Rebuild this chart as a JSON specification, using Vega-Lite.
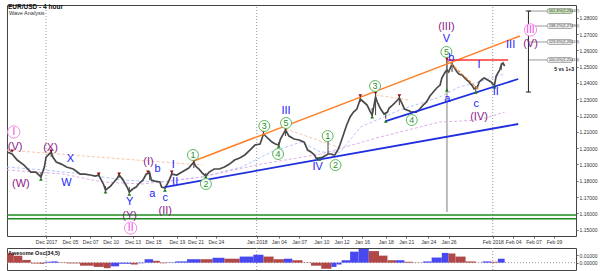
{
"$schema": "https://vega.github.io/schema/vega-lite/v6.json",
"padding": {"left": 3, "top": 3, "right": 0, "bottom": 0},
"background": "white",
"spacing": 2,
"resolve": {"scale": {"color": "independent", "shape": "independent"}},
"config": {
  "view": {"stroke": "#444", "strokeWidth": 1},
  "font": "Liberation Sans"
},
"datasets": {
  "price": [
    {"b":0,"p":1.1976},{"b":3,"p":1.1964},{"b":6,"p":1.1927},{"b":10,"p":1.1896},{"b":14,"p":1.1853},{"b":17,"p":1.1853},{"b":20,"p":1.1823},{"b":22,"p":1.1884},{"b":23,"p":1.1945},{"b":26,"p":1.1976},{"b":27,"p":1.1945},{"b":29,"p":1.1915},{"b":32,"p":1.1902},{"b":35,"p":1.1884},{"b":39,"p":1.1872},{"b":43,"p":1.1841},{"b":46,"p":1.1841},{"b":49,"p":1.1835},{"b":52,"p":1.1829},{"b":54,"p":1.1835},{"b":57,"p":1.1774},{"b":58,"p":1.1743},{"b":61,"p":1.1767},{"b":62,"p":1.178},{"b":65,"p":1.1817},{"b":66,"p":1.1835},{"b":68,"p":1.181},{"b":69,"p":1.1792},{"b":71,"p":1.1755},{"b":72,"p":1.1731},{"b":74,"p":1.1749},{"b":76,"p":1.1761},{"b":78,"p":1.1786},{"b":80,"p":1.1804},{"b":82,"p":1.1841},{"b":84,"p":1.1847},{"b":85,"p":1.1804},{"b":87,"p":1.1798},{"b":90,"p":1.1792},{"b":91,"p":1.1761},{"b":93,"p":1.1755},{"b":95,"p":1.1792},{"b":97,"p":1.1841},{"b":100,"p":1.1835},{"b":103,"p":1.1853},{"b":105,"p":1.1866},{"b":107,"p":1.1878},{"b":110,"p":1.1915},{"b":111,"p":1.189},{"b":113,"p":1.1872},{"b":115,"p":1.1847},{"b":117,"p":1.1829},{"b":119,"p":1.1853},{"b":122,"p":1.1872},{"b":125,"p":1.1872},{"b":128,"p":1.1884},{"b":131,"p":1.1902},{"b":134,"p":1.1927},{"b":137,"p":1.1939},{"b":140,"p":1.1958},{"b":143,"p":1.1988},{"b":146,"p":1.2019},{"b":149,"p":1.2025},{"b":151,"p":1.2087},{"b":154,"p":1.2056},{"b":156,"p":1.2037},{"b":158,"p":1.2025},{"b":160,"p":1.2019},{"b":161,"p":1.2056},{"b":164,"p":1.2111},{"b":166,"p":1.2074},{"b":169,"p":1.2056},{"b":172,"p":1.205},{"b":175,"p":1.2037},{"b":177,"p":1.1988},{"b":179,"p":1.1976},{"b":181,"p":1.1958},{"b":182,"p":1.1939},{"b":184,"p":1.1939},{"b":186,"p":1.1945},{"b":189,"p":1.1964},{"b":191,"p":1.1964},{"b":192,"p":1.1958},{"b":193,"p":1.1958},{"b":195,"p":1.1994},{"b":196,"p":1.2019},{"b":198,"p":1.208},{"b":200,"p":1.2142},{"b":202,"p":1.2191},{"b":204,"p":1.2221},{"b":206,"p":1.224},{"b":208,"p":1.2301},{"b":210,"p":1.2283},{"b":212,"p":1.2264},{"b":214,"p":1.2221},{"b":215,"p":1.2203},{"b":217,"p":1.2313},{"b":218,"p":1.2283},{"b":220,"p":1.224},{"b":222,"p":1.2209},{"b":224,"p":1.2221},{"b":225,"p":1.2246},{"b":227,"p":1.2264},{"b":230,"p":1.2295},{"b":231,"p":1.2307},{"b":233,"p":1.2264},{"b":234,"p":1.224},{"b":237,"p":1.2228},{"b":238,"p":1.2221},{"b":241,"p":1.2221},{"b":243,"p":1.224},{"b":245,"p":1.2264},{"b":247,"p":1.2283},{"b":249,"p":1.232},{"b":251,"p":1.2344},{"b":253,"p":1.2369},{"b":255,"p":1.2387},{"b":256,"p":1.243},{"b":258,"p":1.2467},{"b":259,"p":1.2479},{"b":260,"p":1.2467},{"b":262,"p":1.2516},{"b":265,"p":1.2467},{"b":266,"p":1.2455},{"b":268,"p":1.2448},{"b":270,"p":1.2424},{"b":272,"p":1.2406},{"b":274,"p":1.2381},{"b":275,"p":1.2363},{"b":277,"p":1.2375},{"b":278,"p":1.2406},{"b":280,"p":1.2424},{"b":281,"p":1.243},{"b":283,"p":1.2418},{"b":285,"p":1.2406},{"b":286,"p":1.2393},{"b":287,"p":1.2387},{"b":288,"p":1.2442},{"b":290,"p":1.2479},{"b":291,"p":1.251},{"b":292,"p":1.2522},{"b":293,"p":1.2504}
  ],
  "wicks": [
    {"b":259,"p":1.2547,"p2":1.2356},{"b":189,"p":1.2044,"p2":1.1964},{"b":151,"p":1.2099,"p2":1.208},{"b":164,"p":1.2117,"p2":1.2074},{"b":217,"p":1.2338,"p2":1.2203},{"b":208,"p":1.232,"p2":1.2283},{"b":215,"p":1.2246,"p2":1.2191},{"b":223,"p":1.2221,"p2":1.218},{"b":72,"p":1.1761,"p2":1.1725},{"b":58,"p":1.1767,"p2":1.1737},{"b":20,"p":1.1853,"p2":1.1816},{"b":26,"p":1.1982,"p2":1.1945},{"b":110,"p":1.1927,"p2":1.1878},{"b":117,"p":1.1847,"p2":1.1829},{"b":84,"p":1.1858,"p2":1.1804},{"b":93,"p":1.1767,"p2":1.1749},{"b":97,"p":1.1858,"p2":1.1835},{"b":54,"p":1.1847,"p2":1.1829},{"b":66,"p":1.1847,"p2":1.1817},{"b":262,"p":1.253,"p2":1.2467},{"b":291,"p":1.2522,"p2":1.2479},{"b":276,"p":1.2381,"p2":1.235},{"b":287,"p":1.24,"p2":1.2381},{"b":231,"p":1.2325,"p2":1.2264},{"b":160,"p":1.2037,"p2":1.2019},{"b":184,"p":1.1945,"p2":1.1939}
  ],
  "fractals": [
    {"b":3,"p":1.1982,"f":"high"},{"b":26,"p":1.1982,"f":"high"},{"b":54,"p":1.1841,"f":"high"},{"b":66,"p":1.1841,"f":"high"},{"b":83,"p":1.1853,"f":"high"},{"b":97,"p":1.1853,"f":"high"},{"b":110,"p":1.1921,"f":"high"},{"b":151,"p":1.2099,"f":"high"},{"b":164,"p":1.2117,"f":"high"},{"b":189,"p":1.2044,"f":"high"},{"b":208,"p":1.232,"f":"high"},{"b":217,"p":1.2338,"f":"high"},{"b":231,"p":1.232,"f":"high"},{"b":259,"p":1.2547,"f":"high"},
    {"b":20,"p":1.181,"f":"low"},{"b":58,"p":1.1731,"f":"low"},{"b":72,"p":1.1718,"f":"low"},{"b":93,"p":1.1743,"f":"low"},{"b":117,"p":1.1823,"f":"low"},{"b":160,"p":1.2013,"f":"low"},{"b":184,"p":1.1933,"f":"low"},{"b":215,"p":1.2191,"f":"low"},{"b":223,"p":1.2166,"f":"low"},{"b":259,"p":1.2356,"f":"low"},{"b":276,"p":1.2344,"f":"low"},{"b":287,"p":1.2375,"f":"low"}
  ],
  "lines": [
    {"b":110,"p":1.1921,"b2":302,"p2":1.2688,"k":"upper"},
    {"b":93,"p":1.1761,"b2":301,"p2":1.2148,"k":"lower"},
    {"b":223,"p":1.2166,"b2":301,"p2":1.2424,"k":"lower"},
    {"b":259,"p":1.2541,"b2":278,"p2":1.2356,"k":"corr"},
    {"b":259,"p":1.2541,"b2":295,"p2":1.2541,"k":"res"},
    {"b":0,"p":1.1988,"b2":115,"p2":1.1896,"k":"guide"},
    {"b":164,"p":1.2117,"b2":195,"p2":1.2007,"k":"guide"},
    {"b":217,"p":1.2326,"b2":237,"p2":1.2295,"k":"guide"},
    {"b":259,"p":1.2541,"b2":259,"p2":1.1608,"k":"measure"},
    {"b":307,"p":1.2841,"b2":307,"p2":1.2344,"k":"fib"},
    {"b":305.5,"p":1.2841,"b2":308.5,"p2":1.2841,"k":"fib"},
    {"b":305.5,"p":1.2344,"b2":308.5,"p2":1.2344,"k":"fib"},
    {"b":307,"p":1.2841,"b2":318,"p2":1.2841,"k":"level"},
    {"b":307,"p":1.2749,"b2":318,"p2":1.2749,"k":"level"},
    {"b":307,"p":1.2651,"b2":318,"p2":1.2651,"k":"level"},
    {"b":307,"p":1.2541,"b2":318,"p2":1.2541,"k":"level"},
    {"b":0,"p":1.159,"b2":335,"p2":1.159,"k":"support"},
    {"b":0,"p":1.1567,"b2":335,"p2":1.1567,"k":"support"},
    {"b":23,"p":1.1461,"b2":23,"p2":1.2878,"k":"month"},
    {"b":147,"p":1.1461,"b2":147,"p2":1.2878,"k":"month"},
    {"b":286,"p":1.1461,"b2":286,"p2":1.2878,"k":"month"}
  ],
  "fiblabels": [
    {"b":318,"b2":333,"p":1.2856,"p2":1.2826,"pm":1.2841,"t":"161.8%(1.28447)","top":"yes"},
    {"b":318,"b2":333,"p":1.2764,"p2":1.2734,"pm":1.2749,"t":"138.2%(1.27490)","top":"no"},
    {"b":318,"b2":333,"p":1.2666,"p2":1.2636,"pm":1.2651,"t":"123.6%(1.26513)","top":"no"},
    {"b":318,"b2":333,"p":1.2556,"p2":1.2526,"pm":1.2541,"t":"100.0%(1.25413)","top":"no"}
  ],
  "ma": [
    {"b":0,"p":1.1884,"m":"fast"},{"b":21.6,"p":1.1866,"m":"fast"},{"b":44.9,"p":1.1841,"m":"fast"},{"b":68.2,"p":1.1804,"m":"fast"},{"b":91.5,"p":1.1792,"m":"fast"},{"b":114.8,"p":1.1823,"m":"fast"},{"b":138.1,"p":1.1884,"m":"fast"},{"b":155.6,"p":1.1976,"m":"fast"},{"b":173,"p":1.2037,"m":"fast"},{"b":184.7,"p":1.1976,"m":"fast"},{"b":196.3,"p":1.1976,"m":"fast"},{"b":208,"p":1.2129,"m":"fast"},{"b":231.3,"p":1.2234,"m":"fast"},{"b":254.6,"p":1.2313,"m":"fast"},{"b":266.2,"p":1.2375,"m":"fast"},{"b":277.9,"p":1.2406,"m":"fast"},{"b":293,"p":1.2455,"m":"fast"},
    {"b":0,"p":1.1866,"m":"slow"},{"b":33.2,"p":1.1841,"m":"slow"},{"b":56.5,"p":1.1792,"m":"slow"},{"b":79.8,"p":1.178,"m":"slow"},{"b":114.8,"p":1.1823,"m":"slow"},{"b":149.7,"p":1.1902,"m":"slow"},{"b":184.7,"p":1.1964,"m":"slow"},{"b":219.6,"p":1.2068,"m":"slow"},{"b":254.6,"p":1.216,"m":"slow"},{"b":277.9,"p":1.2172,"m":"slow"},{"b":293,"p":1.2221,"m":"slow"}
  ],
  "waves": [
    {"b":4,"p":1.2099,"t":"I","d":"cycle"},{"b":72.8,"p":1.151,"t":"II","d":"cycle"},{"b":308.2,"p":1.2725,"t":"III","d":"cycle"},
    {"b":4.8,"p":1.2007,"t":"(V)","d":"primary"},{"b":8.2,"p":1.178,"t":"(W)","d":"primary"},{"b":25.6,"p":1.2001,"t":"(X)","d":"primary"},{"b":83.3,"p":1.1915,"t":"(I)","d":"primary"},{"b":72.2,"p":1.1582,"t":"(Y)","d":"primary"},{"b":93.2,"p":1.1614,"t":"(II)","d":"primary"},{"b":258.7,"p":1.2743,"t":"(III)","d":"primary"},{"b":277.9,"p":1.2191,"t":"(IV)","d":"primary"},{"b":308.2,"p":1.2639,"t":"(V)","d":"primary"},
    {"b":37.3,"p":1.1933,"t":"X","d":"intermediate"},{"b":35,"p":1.1786,"t":"W","d":"intermediate"},{"b":72.2,"p":1.1669,"t":"Y","d":"intermediate"},{"b":85.6,"p":1.1718,"t":"a","d":"intermediate"},{"b":88.6,"p":1.1872,"t":"b","d":"intermediate"},{"b":93.2,"p":1.1694,"t":"c","d":"intermediate"},{"b":97.9,"p":1.1896,"t":"I","d":"intermediate"},{"b":99,"p":1.1792,"t":"II","d":"intermediate"},{"b":164.3,"p":1.2228,"t":"III","d":"intermediate"},{"b":182.9,"p":1.1884,"t":"IV","d":"intermediate"},{"b":258.7,"p":1.2669,"t":"V","d":"intermediate"},{"b":261.6,"p":1.2553,"t":"b","d":"intermediate"},{"b":259.3,"p":1.2301,"t":"a","d":"intermediate"},{"b":277.9,"p":1.251,"t":"I","d":"intermediate"},{"b":276.2,"p":1.2271,"t":"c","d":"intermediate"},{"b":287.8,"p":1.2344,"t":"II","d":"intermediate"},{"b":296.5,"p":1.2633,"t":"III","d":"intermediate"},
    {"b":109.5,"p":1.1958,"t":"1","d":"minor"},{"b":117.1,"p":1.178,"t":"2","d":"minor"},{"b":151.5,"p":1.2136,"t":"3","d":"minor"},{"b":159.6,"p":1.1964,"t":"4","d":"minor"},{"b":164.3,"p":1.2154,"t":"5","d":"minor"},{"b":188.8,"p":1.2074,"t":"1","d":"minor"},{"b":193.4,"p":1.1896,"t":"2","d":"minor"},{"b":216.7,"p":1.2381,"t":"3","d":"minor"},{"b":238.3,"p":1.2172,"t":"4","d":"minor"},{"b":258.7,"p":1.259,"t":"5","d":"minor"}
  ],
  "oscseps": [{"b":23,"v":-0.01,"v2":0.02},{"b":147,"v":-0.01,"v2":0.02},{"b":286,"v":-0.01,"v2":0.02}],
  "osc": [
    {"b":0,"b2":4,"v":0.0125,"dir":"down"},{"b":4,"b2":9,"v":0.0096,"dir":"down"},{"b":9,"b2":14,"v":0.0037,"dir":"down"},{"b":14,"b2":19,"v":-0.001,"dir":"down"},{"b":19,"b2":22,"v":-0.0015,"dir":"down"},{"b":22,"b2":26,"v":0.0012,"dir":"up"},{"b":26,"b2":30,"v":0.0017,"dir":"up"},{"b":30,"b2":35,"v":0.0005,"dir":"down"},{"b":35,"b2":43,"v":-0.001,"dir":"down"},{"b":43,"b2":51,"v":-0.0041,"dir":"down"},{"b":51,"b2":57,"v":-0.0058,"dir":"down"},{"b":57,"b2":61,"v":-0.0075,"dir":"down"},{"b":61,"b2":66,"v":-0.005,"dir":"up"},{"b":66,"b2":73,"v":-0.0015,"dir":"up"},{"b":73,"b2":77,"v":-0.0025,"dir":"down"},{"b":77,"b2":81,"v":-0.0008,"dir":"up"},{"b":81,"b2":86,"v":0.0047,"dir":"up"},{"b":86,"b2":90,"v":0.0025,"dir":"down"},{"b":90,"b2":94,"v":-0.0008,"dir":"down"},{"b":94,"b2":99,"v":0.0005,"dir":"up"},{"b":99,"b2":106,"v":0.0017,"dir":"up"},{"b":106,"b2":114,"v":0.0047,"dir":"up"},{"b":114,"b2":121,"v":0.0047,"dir":"down"},{"b":121,"b2":128,"v":0.0067,"dir":"up"},{"b":128,"b2":137,"v":0.0054,"dir":"down"},{"b":137,"b2":145,"v":0.0083,"dir":"up"},{"b":145,"b2":151,"v":0.0108,"dir":"up"},{"b":151,"b2":157,"v":0.0083,"dir":"down"},{"b":157,"b2":163,"v":0.0047,"dir":"down"},{"b":163,"b2":168,"v":0.0054,"dir":"up"},{"b":168,"b2":174,"v":0.0033,"dir":"down"},{"b":174,"b2":179,"v":0.0005,"dir":"down"},{"b":179,"b2":185,"v":-0.0041,"dir":"down"},{"b":185,"b2":191,"v":-0.0083,"dir":"down"},{"b":191,"b2":194,"v":-0.0058,"dir":"up"},{"b":194,"b2":197,"v":-0.0025,"dir":"up"},{"b":197,"b2":202,"v":0.0033,"dir":"up"},{"b":202,"b2":207,"v":0.015,"dir":"up"},{"b":207,"b2":213,"v":0.0187,"dir":"up"},{"b":213,"b2":219,"v":0.0158,"dir":"down"},{"b":219,"b2":224,"v":0.0096,"dir":"down"},{"b":224,"b2":229,"v":0.0033,"dir":"down"},{"b":229,"b2":234,"v":0.0033,"dir":"up"},{"b":234,"b2":239,"v":0.0012,"dir":"down"},{"b":239,"b2":245,"v":0.0003,"dir":"down"},{"b":245,"b2":250,"v":0.0017,"dir":"up"},{"b":250,"b2":256,"v":0.007,"dir":"up"},{"b":256,"b2":260,"v":0.0133,"dir":"up"},{"b":260,"b2":264,"v":0.0125,"dir":"down"},{"b":264,"b2":270,"v":0.0083,"dir":"down"},{"b":270,"b2":276,"v":0.0017,"dir":"down"},{"b":276,"b2":280,"v":0.0002,"dir":"down"},{"b":280,"b2":285,"v":0.0017,"dir":"up"},{"b":285,"b2":289,"v":0.0012,"dir":"down"},{"b":289,"b2":293,"v":0.0054,"dir":"up"}
  ]
},
"vconcat": [
{
  "width": 569, "height": 231,
  "resolve": {"scale": {"color": "independent", "shape": "independent"}},
  "encoding": {
    "x": {"field": "b", "type": "quantitative", "scale": {"domain": [0, 335], "nice": false, "zero": false},
      "axis": {"values": [23,37,49,61,74,86,100,111,123,147,160,172,185,197,209,223,235,248,260,286,298,310,322],
        "labelExpr": "datum.value == 23 ? 'Dec 2017' : datum.value == 37 ? 'Dec 05' : datum.value == 49 ? 'Dec 07' : datum.value == 61 ? 'Dec 10' : datum.value == 74 ? 'Dec 13' : datum.value == 86 ? 'Dec 15' : datum.value == 100 ? 'Dec 19' : datum.value == 111 ? 'Dec 21' : datum.value == 123 ? 'Dec 24' : datum.value == 147 ? 'Jan 2018' : datum.value == 160 ? 'Jan 04' : datum.value == 172 ? 'Jan 07' : datum.value == 185 ? 'Jan 10' : datum.value == 197 ? 'Jan 12' : datum.value == 209 ? 'Jan 16' : datum.value == 223 ? 'Jan 18' : datum.value == 235 ? 'Jan 21' : datum.value == 248 ? 'Jan 24' : datum.value == 260 ? 'Jan 26' : datum.value == 286 ? 'Feb 2018' : datum.value == 298 ? 'Feb 04' : datum.value == 310 ? 'Feb 07' : 'Feb 09'",
        "title": null, "grid": false, "domain": false, "labelFontSize": 5, "labelColor": "#333", "tickSize": 2, "tickColor": "#666", "labelPadding": 1, "labelOverlap": false}},
    "y": {"field": "p", "type": "quantitative", "scale": {"domain": [1.1461, 1.2878], "nice": false, "zero": false},
      "axis": {"orient": "right", "tickCount": 14, "format": ".5f", "title": null, "grid": false, "domain": false, "labelFontSize": 5, "labelColor": "#333", "tickSize": 2, "tickColor": "#666", "labelPadding": 1}}
  },
  "layer": [
    {"data": {"name": "lines"}, "transform": [{"filter": "datum.k == 'month'"}], "mark": {"type": "rule", "color": "#999", "strokeDash": [1, 2]},
     "encoding": {"x2": {"field": "b2"}, "y2": {"field": "p2"}}},
    {"data": {"name": "lines"}, "transform": [{"filter": "datum.k == 'support'"}], "mark": {"type": "rule", "color": "#1e8c1e", "strokeWidth": 1.5},
     "encoding": {"x2": {"field": "b2"}, "y2": {"field": "p2"}}},
    {"data": {"name": "ma"}, "mark": {"type": "line", "strokeWidth": 1, "strokeDash": [3, 2]},
     "encoding": {"detail": {"field": "m"},
       "color": {"field": "m", "type": "nominal", "scale": {"domain": ["fast", "slow"], "range": ["#b4c6ff", "#e2b0e8"]}, "legend": null}}},
    {"data": {"name": "lines"}, "transform": [{"filter": "datum.k == 'guide'"}], "mark": {"type": "rule", "color": "#f8c8a8", "strokeWidth": 1, "strokeDash": [3, 2]},
     "encoding": {"x2": {"field": "b2"}, "y2": {"field": "p2"}}},
    {"data": {"name": "lines"}, "transform": [{"filter": "datum.k == 'measure'"}], "mark": {"type": "rule", "color": "#bbb", "strokeWidth": 2},
     "encoding": {"x2": {"field": "b2"}, "y2": {"field": "p2"}}},
    {"data": {"name": "lines"}, "transform": [{"filter": "datum.k == 'level'"}], "mark": {"type": "rule", "color": "#999", "strokeWidth": 1},
     "encoding": {"x2": {"field": "b2"}, "y2": {"field": "p2"}}},
    {"data": {"name": "lines"}, "transform": [{"filter": "datum.k == 'fib'"}], "mark": {"type": "rule", "color": "#222", "strokeWidth": 1},
     "encoding": {"x2": {"field": "b2"}, "y2": {"field": "p2"}}},
    {"data": {"name": "fiblabels"}, "mark": {"type": "rect", "stroke": "#888", "strokeWidth": 0.7, "cornerRadius": 2},
     "encoding": {"x2": {"field": "b2"}, "y2": {"field": "p2"},
       "color": {"field": "top", "type": "nominal", "scale": {"domain": ["yes", "no"], "range": ["#c8e6b8", "#eeeeee"]}, "legend": null}}},
    {"data": {"name": "fiblabels"}, "mark": {"type": "text", "fontSize": 4, "align": "left", "baseline": "middle", "dx": 1.5, "color": "#444"},
     "encoding": {"y": {"field": "pm", "type": "quantitative"}, "text": {"field": "t"}}},
    {"data": {"values": [{"b": 328, "p": 1.2485, "t": "5 vs 1+3"}]}, "mark": {"type": "text", "fontSize": 5, "fontWeight": "bold", "align": "center", "baseline": "middle", "color": "#111"},
     "encoding": {"text": {"field": "t"}}},
    {"data": {"name": "wicks"}, "mark": {"type": "rule", "color": "#444", "strokeWidth": 1},
     "encoding": {"y2": {"field": "p2"}}},
    {"data": {"name": "price"}, "mark": {"type": "line", "color": "#4a4a4a", "strokeWidth": 1.7}},
    {"data": {"name": "lines"}, "transform": [{"filter": "datum.k == 'upper'"}], "mark": {"type": "rule", "color": "#ff7f27", "strokeWidth": 1.5},
     "encoding": {"x2": {"field": "b2"}, "y2": {"field": "p2"}}},
    {"data": {"name": "lines"}, "transform": [{"filter": "datum.k == 'lower'"}], "mark": {"type": "rule", "color": "#1f2fe0", "strokeWidth": 1.8},
     "encoding": {"x2": {"field": "b2"}, "y2": {"field": "p2"}}},
    {"data": {"name": "lines"}, "transform": [{"filter": "datum.k == 'corr'"}], "mark": {"type": "rule", "color": "#ff7f27", "strokeWidth": 1.2, "strokeDash": [3, 2]},
     "encoding": {"x2": {"field": "b2"}, "y2": {"field": "p2"}}},
    {"data": {"name": "lines"}, "transform": [{"filter": "datum.k == 'res'"}], "mark": {"type": "rule", "color": "#ff3030", "strokeWidth": 1.5},
     "encoding": {"x2": {"field": "b2"}, "y2": {"field": "p2"}}},
    {"data": {"name": "fractals"}, "mark": {"type": "point", "filled": true, "size": 14, "opacity": 1},
     "encoding": {
       "shape": {"field": "f", "type": "nominal", "scale": {"domain": ["high", "low"], "range": ["triangle-down", "triangle-up"]}, "legend": null},
       "color": {"field": "f", "type": "nominal", "scale": {"domain": ["high", "low"], "range": ["#8b1010", "#1a7a1a"]}, "legend": null}}},
    {"data": {"name": "waves"}, "transform": [{"filter": "datum.d == 'minor'"}], "mark": {"type": "point", "shape": "circle", "filled": true, "fill": "white", "stroke": "#5cb85c", "strokeWidth": 1, "size": 120, "opacity": 1, "clip": true}},
    {"data": {"name": "waves"}, "transform": [{"filter": "datum.d == 'cycle'"}], "mark": {"type": "point", "shape": "circle", "filled": true, "fill": "white", "stroke": "#f28ce6", "strokeWidth": 1, "size": 150, "opacity": 1, "clip": true}},
    {"data": {"name": "waves"}, "transform": [{"filter": "datum.d == 'cycle'"}], "mark": {"type": "text", "fontSize": 10, "align": "center", "baseline": "middle", "color": "#f03ce0", "clip": true},
     "encoding": {"text": {"field": "t"}}},
    {"data": {"name": "waves"}, "transform": [{"filter": "datum.d == 'primary'"}], "mark": {"type": "text", "fontSize": 11, "align": "center", "baseline": "middle", "color": "#8b1a8b", "clip": true},
     "encoding": {"text": {"field": "t"}}},
    {"data": {"name": "waves"}, "transform": [{"filter": "datum.d == 'intermediate'"}], "mark": {"type": "text", "fontSize": 11, "align": "center", "baseline": "middle", "color": "#2525ff", "clip": true},
     "encoding": {"text": {"field": "t"}}},
    {"data": {"name": "waves"}, "transform": [{"filter": "datum.d == 'minor'"}], "mark": {"type": "text", "fontSize": 9, "align": "center", "baseline": "middle", "color": "#2a922a", "clip": true},
     "encoding": {"text": {"field": "t"}}},
    {"data": {"values": [{"b": 0.6, "p": 1.2864, "t": "EUR/USD - 4 hour"}]}, "mark": {"type": "text", "fontSize": 6.5, "fontWeight": "bold", "align": "left", "baseline": "middle", "color": "#111"},
     "encoding": {"text": {"field": "t"}}},
    {"data": {"values": [{"b": 1.2, "p": 1.2828, "t": "Wave Analysis"}]}, "mark": {"type": "text", "fontSize": 5.5, "align": "left", "baseline": "middle", "color": "#333"},
     "encoding": {"text": {"field": "t"}}}
  ]
},
{
  "width": 569, "height": 22,
  "encoding": {
    "x": {"field": "b", "type": "quantitative", "scale": {"domain": [0, 335], "nice": false, "zero": false}, "axis": null},
    "y": {"field": "v", "type": "quantitative", "scale": {"domain": [-0.01, 0.02], "nice": false, "zero": false},
      "axis": {"orient": "right", "values": [0, 0.01], "format": ".5f", "title": null, "grid": false, "domain": false, "labelFontSize": 5, "labelColor": "#333", "tickSize": 2, "tickColor": "#666", "labelPadding": 1}}
  },
  "layer": [
    {"data": {"name": "oscseps"}, "mark": {"type": "rule", "color": "#999", "strokeDash": [1, 2]},
     "encoding": {"y2": {"field": "v2"}}},
    {"data": {"values": [{"b": 0, "b2": 335, "v": 0}]}, "mark": {"type": "rule", "color": "#999", "strokeDash": [1, 2]},
     "encoding": {"x2": {"field": "b2"}}},
    {"data": {"name": "osc"}, "mark": {"type": "bar"},
     "encoding": {"x2": {"field": "b2"}, "y2": {"datum": 0},
       "color": {"field": "dir", "type": "nominal", "scale": {"domain": ["up", "down"], "range": ["#4848f0", "#b04848"]}, "legend": null}}},
    {"data": {"values": [{"b": 0.6, "v": 0.0137, "t": "Awesome Osc(34,5)"}]}, "mark": {"type": "text", "fontSize": 5.5, "fontWeight": "bold", "align": "left", "baseline": "middle", "color": "#111"},
     "encoding": {"text": {"field": "t"}}}
  ]
}
]
}
